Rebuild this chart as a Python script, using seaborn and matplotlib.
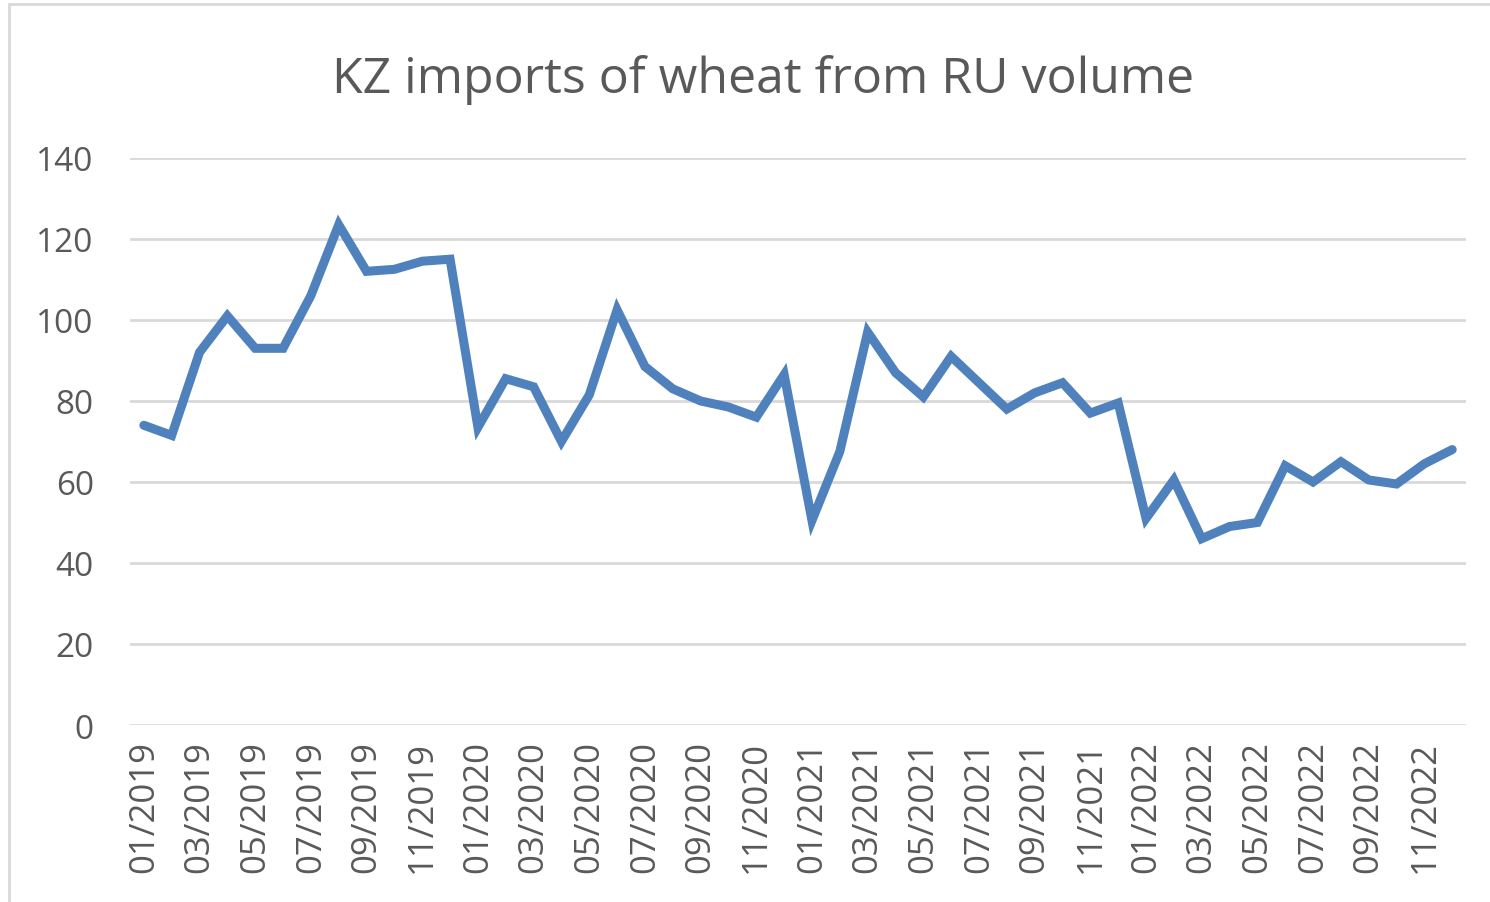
import pandas as pd
import matplotlib.pyplot as plt
import seaborn as sns
from matplotlib.patches import Rectangle

# monthly labels 01/2019 .. 12/2022
months = [f"{m:02d}/{y}" for y in (2019, 2020, 2021, 2022) for m in range(1, 13)]

volume = [74, 71.5, 92, 101, 93, 93, 106, 123.5, 112, 112.5, 114.5, 115,
          73.5, 85.5, 83.5, 70, 81.5, 102.5, 88.5, 83, 80, 78.5, 76, 86.5,
          50.5, 67.5, 97, 87, 81, 91, 84.5, 78, 82, 84.5, 77, 79.5,
          51, 60.5, 46, 49, 50, 64, 60, 65, 60.5, 59.5, 64.5, 68]

y_ticks = [0, 20, 40, 60, 80, 100, 120, 140]

df = pd.DataFrame({'idx': range(len(months)), 'month': months, 'volume': volume})

sns.set_style('white')
plt.rcParams['font.family'] = ['Open Sans', 'DejaVu Sans']

fig = plt.figure(figsize=(14.9, 9.03), dpi=100)
ax = fig.add_axes([0.0872, 0.196, 0.8968, 0.628])

sns.lineplot(data=df, x='idx', y='volume', ax=ax, color='#4F81BD', linewidth=6.5,
             solid_joinstyle='miter', solid_capstyle='round')

ax.set_xlim(-0.5, len(months) - 0.5)
ax.set_ylim(0, 140)
ax.set_yticks(y_ticks)
ax.set_yticklabels([str(v) for v in y_ticks], fontsize=24, color='#595959')
ax.set_xticks(df['idx'][::2])
ax.set_xticklabels(df['month'][::2], rotation=90, fontsize=25, color='#595959')
ax.tick_params(axis='both', length=0)
ax.tick_params(axis='x', pad=11)
ax.tick_params(axis='y', pad=26)
ax.grid(axis='y', color='#D9D9D9', linewidth=2)
ax.set_axisbelow(True)
for s in ax.spines.values():
    s.set_visible(False)
ax.set_xlabel('')
ax.set_ylabel('')

fig.text(0.5124, 0.897, 'KZ imports of wheat from RU volume', ha='center', va='baseline',
         fontsize=36, color='#595959')

# chart area border
fig.patches.append(Rectangle((0.006, -0.02), 1.1, 1.014, transform=fig.transFigure,
                             fill=False, edgecolor='#D9D9D9', linewidth=2))

fig.savefig('out.png', dpi=100)
